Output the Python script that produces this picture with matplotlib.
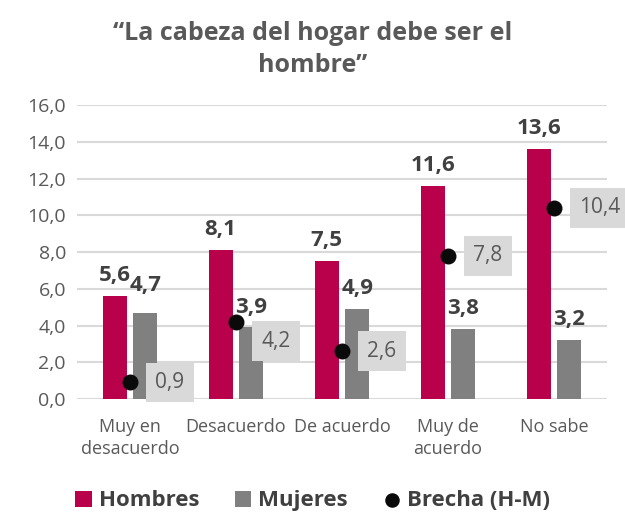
# Gráfico: "La cabeza del hogar debe ser el hombre"
import numpy as np
import matplotlib.pyplot as plt

plt.rcParams['font.family'] = ['Open Sans', 'DejaVu Sans']

# Datos
categorias = ['Muy en\ndesacuerdo', 'Desacuerdo', 'De acuerdo', 'Muy de\nacuerdo', 'No sabe']
hombres = [5.6, 8.1, 7.5, 11.6, 13.6]
mujeres = [4.7, 3.9, 4.9, 3.8, 3.2]
brecha = [0.9, 4.2, 2.6, 7.8, 10.4]

c_hom = '#B8004B'
c_muj = '#808080'
c_txt = '#404040'
c_eje = '#595959'

def fmt(v):
    return f'{v:.1f}'.replace('.', ',')

fig = plt.figure(figsize=(6.25, 5.16), dpi=100)
ax = fig.add_axes([0.1232, 0.2267, 0.848, 0.5698])

x = np.arange(len(categorias))
w = 0.226
off = 0.145
b1 = ax.bar(x - off, hombres, w, color=c_hom, label='Hombres', zorder=2)
b2 = ax.bar(x + off, mujeres, w, color=c_muj, label='Mujeres', zorder=2)
p = ax.scatter(x, brecha, s=110, color='#0a0a0a', label='Brecha (H-M)', zorder=4)

# etiquetas de barras
for i in range(len(x)):
    ax.annotate(fmt(hombres[i]), (x[i] - off, hombres[i]), xytext=(0, 7),
                textcoords='offset points', ha='center', va='bottom',
                fontsize=16, fontweight='bold', color=c_txt, zorder=5)
    dy = 12 if i == 0 else 7
    ax.annotate(fmt(mujeres[i]), (x[i] + off, mujeres[i]), xytext=(0, dy),
                textcoords='offset points', ha='center', va='bottom',
                fontsize=16, fontweight='bold', color=c_txt, zorder=5)
    by = -14 if i == 1 else 0
    ax.annotate(fmt(brecha[i]), (x[i], brecha[i]), xytext=(18, by),
                textcoords='offset points', ha='left', va='center',
                fontsize=15, color=c_eje, zorder=5,
                bbox=dict(boxstyle='square,pad=0.45', fc='#D9D9D9', ec='none'))

ax.set_xlim(-0.5, 4.5)
ax.set_ylim(0, 16)
ax.set_yticks(np.arange(0, 17, 2))
ax.set_yticklabels([fmt(v) for v in np.arange(0, 17, 2)], fontsize=14, color=c_eje)
ax.set_xticks(x)
ax.set_xticklabels(categorias, fontsize=13, color=c_eje, linespacing=1.25)
ax.tick_params(axis='x', length=0, pad=14)
ax.tick_params(axis='y', length=0, pad=8)
ax.yaxis.grid(True, color='#D9D9D9', linewidth=1.5, zorder=0)
ax.set_axisbelow(True)
for s in ax.spines.values():
    s.set_visible(False)

fig.text(0.5, 0.96, '“La cabeza del hogar debe ser el\nhombre”', ha='center', va='top',
         fontsize=18, fontweight='bold', color=c_eje, linespacing=1.4)

leg = fig.legend([b1, b2, p], ['Hombres', 'Mujeres', 'Brecha (H-M)'],
                 loc='lower center', bbox_to_anchor=(0.5, -0.03), ncol=3, frameon=False,
                 prop={'size': 16, 'weight': 'bold'}, handlelength=0.75, handleheight=0.75,
                 handletextpad=0.3, columnspacing=1.6, markerscale=0.9)
for t in leg.get_texts():
    t.set_color(c_txt)

fig.savefig('out.png', dpi=100)
